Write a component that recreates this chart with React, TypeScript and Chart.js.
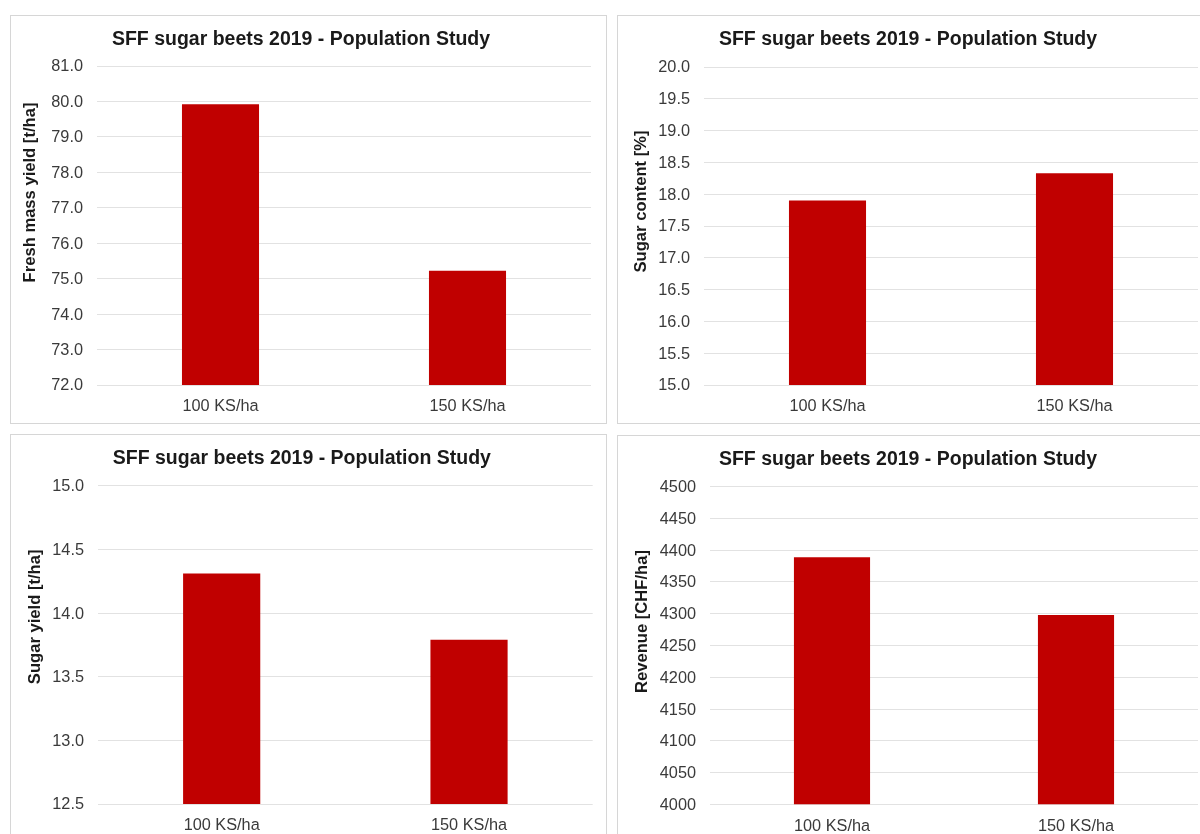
import React, { useEffect, useRef } from "react";
import { Chart, registerables } from "chart.js";

Chart.register(...registerables);

// ---- data ----
const categories = ["100 KS/ha", "150 KS/ha"];
const freshMassYield = [79.92, 75.22]; // t/ha
const sugarContent = [17.9, 18.33]; // %
const sugarYield = [14.31, 13.79]; // t/ha
const revenue = [4389, 4298]; // CHF/ha

// axis ranges: [min, max, step]
const freshMassAxis = [72, 81, 1];
const sugarContentAxis = [15, 20, 0.5];
const sugarYieldAxis = [12.5, 15, 0.5];
const revenueAxis = [4000, 4500, 50];

const chartTitle = "SFF sugar beets 2019 - Population Study";
const BAR_COLOR = "#c00000";
const FONT = '"Liberation Sans", Arial, Helvetica, sans-serif';

// Rotated y-axis caption, drawn slightly above the plot centre
const sideTitlePlugin = {
  id: "sideTitle",
  afterDraw(chart: any, _args: any, opts: any) {
    if (!opts || !opts.text) return;
    const { ctx, chartArea } = chart;
    const cy = (chartArea.top + chartArea.bottom) / 2 - (opts.shift || 0);
    ctx.save();
    ctx.translate(opts.x, cy);
    ctx.rotate(-Math.PI / 2);
    ctx.font = `bold 16.6px ${FONT}`;
    ctx.fillStyle = "#1a1a1a";
    ctx.textAlign = "center";
    ctx.textBaseline = "middle";
    ctx.fillText(opts.text, 0, 0);
    ctx.restore();
  },
};

type PanelProps = {
  left: number;
  top: number;
  values: number[];
  axis: number[];
  decimals: number;
  yTitle: string;
  yTitleX: number;
  yTitleShift: number;
  plotLeft: number;
  plotRight: number;
  plotTop: number;
  plotBottom: number;
  tickPad: number;
};

const W = 595;
const H = 407;

function Panel(p: PanelProps) {
  const ref = useRef<HTMLCanvasElement>(null);

  useEffect(() => {
    if (!ref.current) return;
    const titleSize = 19.5;
    const titleLine = titleSize * 1.2;
    const titleTopPad = 12;
    const chart = new Chart(ref.current, {
      type: "bar",
      data: {
        labels: categories,
        datasets: [
          {
            data: p.values,
            backgroundColor: BAR_COLOR,
            borderWidth: 0,
            categoryPercentage: 1,
            barPercentage: 0.312,
          },
        ],
      },
      plugins: [sideTitlePlugin],
      options: {
        responsive: false,
        animation: false,
        devicePixelRatio: 1,
        layout: {
          padding: { left: 0, top: 0, bottom: 0, right: W - p.plotRight },
        },
        plugins: {
          legend: { display: false },
          tooltip: { enabled: false },
          title: {
            display: true,
            text: chartTitle,
            color: "#1a1a1a",
            font: { family: FONT, size: titleSize, weight: "bold" },
            padding: {
              top: titleTopPad,
              bottom: p.plotTop - titleTopPad - titleLine,
            },
          },
          sideTitle: { text: p.yTitle, x: p.yTitleX, shift: p.yTitleShift },
        } as any,
        scales: {
          x: {
            grid: { display: false, drawTicks: false },
            border: { display: false },
            ticks: {
              color: "#3a3a3a",
              font: { family: FONT, size: 16.3 },
              padding: 12,
              maxRotation: 0,
            },
            afterFit: (s: any) => {
              s.height = H - p.plotBottom;
            },
          },
          y: {
            min: p.axis[0],
            max: p.axis[1],
            grid: { color: "#e2e2e2", lineWidth: 1, drawTicks: false },
            border: { display: false },
            ticks: {
              stepSize: p.axis[2],
              color: "#3a3a3a",
              font: { family: FONT, size: 16.3 },
              padding: p.tickPad,
              labelOffset: 1,
              callback: (v: any) => Number(v).toFixed(p.decimals),
            },
            afterFit: (s: any) => {
              s.width = p.plotLeft;
            },
          },
        },
      } as any,
    });
    return () => chart.destroy();
  }, []);

  return (
    <div
      style={{
        position: "absolute",
        left: p.left,
        top: p.top,
        width: W,
        height: H,
        border: "1px solid #d6d6d6",
        background: "#fff",
      }}
    >
      <canvas
        ref={ref}
        width={W}
        height={H}
        style={{ display: "block", width: W, height: H }}
      />
    </div>
  );
}

export default function App() {
  return (
    <div
      style={{
        position: "fixed",
        inset: 0,
        overflow: "hidden",
        background: "#fff",
      }}
    >
      <Panel
        left={10}
        top={15}
        values={freshMassYield}
        axis={freshMassAxis}
        decimals={1}
        yTitle="Fresh mass yield [t/ha]"
        yTitleX={19.7}
        yTitleShift={33}
        plotLeft={86}
        plotRight={580}
        plotTop={50}
        plotBottom={369}
        tickPad={14}
      />
      <Panel
        left={617}
        top={15}
        values={sugarContent}
        axis={sugarContentAxis}
        decimals={1}
        yTitle="Sugar content [%]"
        yTitleX={23.7}
        yTitleShift={24.5}
        plotLeft={86}
        plotRight={580}
        plotTop={51}
        plotBottom={369}
        tickPad={14}
      />
      <Panel
        left={10}
        top={434}
        values={sugarYield}
        axis={sugarYieldAxis}
        decimals={1}
        yTitle="Sugar yield [t/ha]"
        yTitleX={24}
        yTitleShift={28}
        plotLeft={87}
        plotRight={581.7}
        plotTop={50.7}
        plotBottom={369}
        tickPad={14}
      />
      <Panel
        left={617}
        top={435}
        values={revenue}
        axis={revenueAxis}
        decimals={0}
        yTitle="Revenue [CHF/ha]"
        yTitleX={24}
        yTitleShift={24}
        plotLeft={92}
        plotRight={580}
        plotTop={50.7}
        plotBottom={368.3}
        tickPad={14}
      />
    </div>
  );
}
